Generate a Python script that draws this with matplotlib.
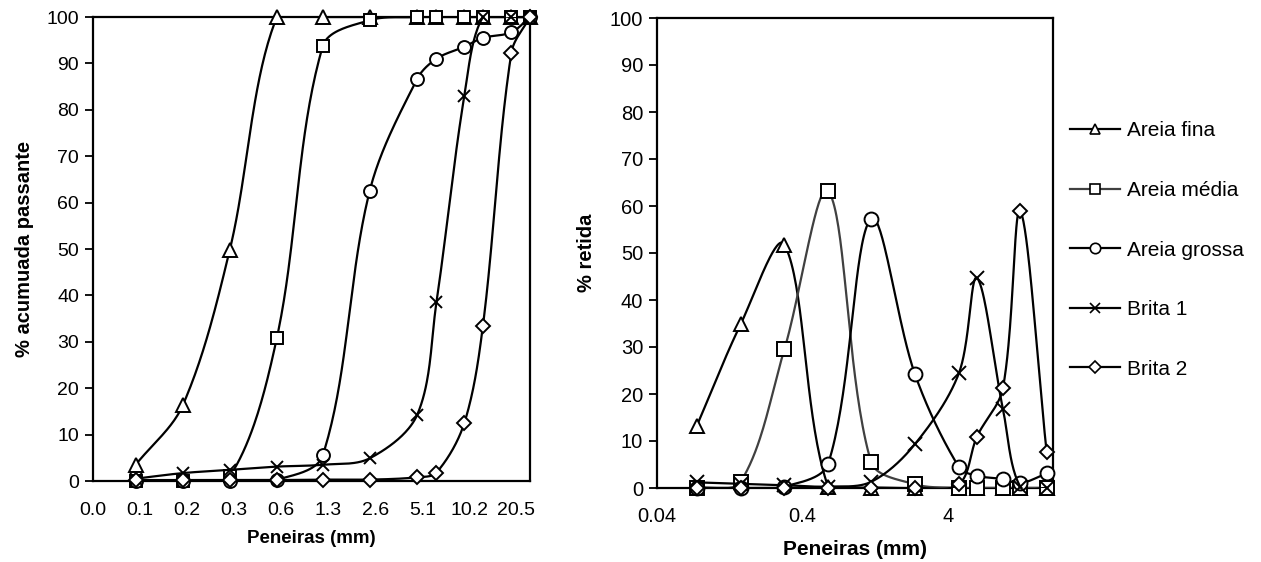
import numpy as np
import matplotlib
matplotlib.use("Agg")
import matplotlib.pyplot as plt
from matplotlib.lines import Line2D

plt.rcParams['font.family'] = ['Liberation Sans', 'DejaVu Sans']

# ---------------- data ----------------
sieves_pass = [0.075, 0.15, 0.3, 0.6, 1.18, 2.36, 4.75, 6.3, 9.5, 12.5, 19, 25]
sieves_ret = [0.075, 0.15, 0.3, 0.6, 1.18, 2.36, 4.75, 6.3, 9.5, 12.5, 19]

names = ["Areia fina", "Areia média", "Areia grossa", "Brita 1", "Brita 2"]

fina_pass = [3.5, 16.3, 49.8, 100, 100, 100, 100, 100, 100, 100, 100, 100]
media_pass = [0, 0, 1.0, 30.8, 93.7, 99.3, 100, 100, 100, 100, 100, 100]
grossa_pass = [0, 0, 0, 0.3, 5.5, 62.6, 86.7, 91.0, 93.6, 95.5, 96.7, 100]
brita1_pass = [0.5, 1.7, 2.4, 3.1, 3.5, 4.9, 14.3, 38.5, 83.0, 100, 100, 100]
brita2_pass = [0.2, 0.2, 0.2, 0.2, 0.3, 0.3, 0.8, 1.8, 12.5, 33.5, 92.3, 100]

fina_ret = [13.2, 34.8, 51.8, 0.2, 0, 0, 0, 0, 0, 0, 0]
media_ret = [0, 1.3, 29.5, 63.2, 5.6, 0.8, 0, 0, 0, 0, 0]
grossa_ret = [0, 0, 0.3, 5.2, 57.3, 24.3, 4.4, 2.6, 1.9, 1.0, 3.1]
brita1_ret = [1.2, 0.9, 0.6, 0.3, 1.3, 9.3, 24.5, 44.7, 16.9, 0.3, 0]
brita2_ret = [0, 0, 0, 0, 0.1, 0, 0.8, 10.9, 21.2, 59.0, 7.6]

left_ticks = [0.04 * 2 ** k for k in range(10)]
right_ticks = [0.04, 0.4, 4]
right_tick_labels = ["0.04", "0.4", "4"]

markers = ['^', 's', 'o', 'x', 'D']
msL = [10, 9, 9.3, 9, 7]
msR = [10, 9.5, 10, 9.5, 7.5]

# ---------------- helpers ----------------
def smooth_curve(ax, xs, ys, n=40):
    """Excel-like smoothed line (chord-scaled Bezier) computed in display space."""
    pts = ax.transData.transform(np.column_stack([xs, ys]))
    out = []
    m = len(pts)
    d = np.linalg.norm(np.diff(pts, axis=0), axis=1)
    for i in range(m - 1):
        p1 = pts[i]
        p2 = pts[i + 1]
        dcur = d[i]
        if i > 0:
            p0 = pts[i - 1]
            dprev = d[i - 1]
            c1 = p1 + (p2 - p0) * dcur / (3.0 * (dprev + dcur) + 1e-9)
        else:
            c1 = p1 + (p2 - p1) / 3.0
        if i + 2 < m:
            p3 = pts[i + 2]
            dnext = d[i + 1]
            c2 = p2 - (p3 - p1) * dcur / (3.0 * (dcur + dnext) + 1e-9)
        else:
            c2 = p2 - (p2 - p1) / 3.0
        t = np.linspace(0, 1, n)[:, None]
        seg = ((1 - t) ** 3) * p1 + 3 * ((1 - t) ** 2) * t * c1 + 3 * (1 - t) * t ** 2 * c2 + t ** 3 * p2
        out.append(seg if i == 0 else seg[1:])
    out = np.vstack(out)
    data = ax.transData.inverted().transform(out)
    return data[:, 0], data[:, 1]

W, H = 1261, 562
fig = plt.figure(figsize=(W / 100, H / 100), dpi=100)

axL = fig.add_axes([93 / W, 1 - 481 / H, (530 - 93) / W, (481 - 17) / H])
axR = fig.add_axes([657 / W, 1 - 488 / H, (1053 - 657) / W, (488 - 18) / H])

def style_axis(ax, fs, xpad):
    for s in ax.spines.values():
        s.set_linewidth(1.6)
        s.set_color('black')
    ax.set_ylim(0, 100)
    ax.set_yticks(range(0, 101, 10))
    ax.tick_params(axis='y', direction='out', length=6, width=1.3, labelsize=fs, pad=4)
    ax.tick_params(axis='x', length=0, labelsize=fs, pad=xpad)
    ax.minorticks_off()

# Left chart
axL.set_xscale('log', base=2)
axL.set_xlim(0.04, 25)
style_axis(axL, 14, 15)
axL.set_xticks(left_ticks)
axL.set_xticklabels([f"{v:.1f}" for v in left_ticks])
axL.minorticks_off()
fig.canvas.draw()
pass_series = [fina_pass, media_pass, grossa_pass, brita1_pass, brita2_pass]
for k, ys in enumerate(pass_series):
    sx, sy = smooth_curve(axL, sieves_pass, ys)
    axL.plot(sx, sy, color='black', lw=1.6, zorder=2 + k)
    axL.plot(sieves_pass, ys, ls='none', marker=markers[k], ms=msL[k],
             mfc='white', mec='black', mew=1.4, clip_on=False, zorder=3 + k)
axL.set_xlabel("Peneiras (mm)", fontsize=13.5, fontweight='bold', labelpad=8)
axL.set_ylabel("% acumuada passante", fontsize=14.5, fontweight='bold', labelpad=9)

# Right chart
axR.set_xscale('log', base=10)
axR.set_xlim(0.04, 21)
style_axis(axR, 14.5, 14)
axR.set_xticks(right_ticks)
axR.set_xticklabels(right_tick_labels)
axR.minorticks_off()
fig.canvas.draw()
ret_series = [fina_ret, media_ret, grossa_ret, brita1_ret, brita2_ret]
colors = ['black', '#404040', 'black', 'black', 'black']
handles = []
for k, ys in enumerate(ret_series):
    sx, sy = smooth_curve(axR, sieves_ret, ys)
    axR.plot(sx, sy, color=colors[k], lw=1.6, zorder=2 + k)
    axR.plot(sieves_ret, ys, ls='none', marker=markers[k], ms=msR[k],
             mfc='white', mec='black', mew=1.4, clip_on=False, zorder=3 + k)
    handles.append(Line2D([], [], color=colors[k], lw=1.6, marker=markers[k],
                          ms=msR[k] * 0.75, mfc='white', mec='black', mew=1.2,
                          label=names[k]))
axR.set_xlabel("Peneiras (mm)", fontsize=15, fontweight='bold', labelpad=10)
axR.set_ylabel("% retida", fontsize=14.5, fontweight='bold', labelpad=10)

fig.legend(handles=handles, loc='center left', bbox_to_anchor=(1070 / W, 1 - 250 / H),
           frameon=False, fontsize=15, labelspacing=1.95, handlelength=2.4,
           handletextpad=0.35, borderpad=0, borderaxespad=0)

fig.savefig("out.png", dpi=100)
